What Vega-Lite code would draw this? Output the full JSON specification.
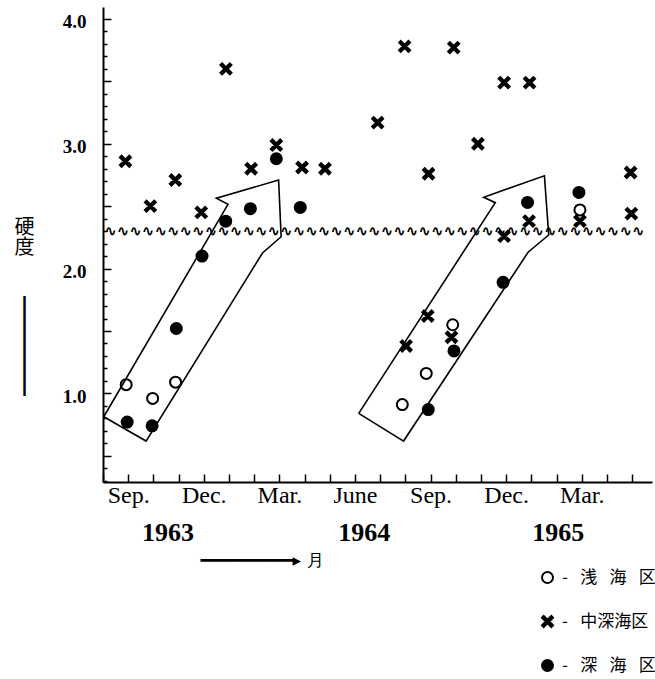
{
  "$schema": "https://vega.github.io/schema/vega-lite/v6.json",
  "width": 549,
  "height": 475,
  "autosize": {"type": "none"},
  "padding": {"left": 103, "top": 7, "right": 3, "bottom": 197},
  "background": "white",
  "config": {
    "view": {"stroke": null},
    "axis": {"grid": false, "domainColor": "black", "tickColor": "black", "labelColor": "black", "titleColor": "black"}
  },
  "datasets": {
    "points": [
      {"month": 8.89, "hardness": 2.86, "area": "中深海区"},
      {"month": 9.88, "hardness": 2.50, "area": "中深海区"},
      {"month": 10.87, "hardness": 2.71, "area": "中深海区"},
      {"month": 11.90, "hardness": 2.45, "area": "中深海区"},
      {"month": 12.88, "hardness": 3.60, "area": "中深海区"},
      {"month": 13.88, "hardness": 2.80, "area": "中深海区"},
      {"month": 14.88, "hardness": 2.99, "area": "中深海区"},
      {"month": 15.90, "hardness": 2.81, "area": "中深海区"},
      {"month": 16.81, "hardness": 2.80, "area": "中深海区"},
      {"month": 18.90, "hardness": 3.17, "area": "中深海区"},
      {"month": 19.97, "hardness": 3.78, "area": "中深海区"},
      {"month": 20.92, "hardness": 2.76, "area": "中深海区"},
      {"month": 21.92, "hardness": 3.77, "area": "中深海区"},
      {"month": 22.88, "hardness": 3.00, "area": "中深海区"},
      {"month": 23.92, "hardness": 3.49, "area": "中深海区"},
      {"month": 24.93, "hardness": 3.49, "area": "中深海区"},
      {"month": 24.91, "hardness": 2.38, "area": "中深海区"},
      {"month": 23.92, "hardness": 2.26, "area": "中深海区"},
      {"month": 26.93, "hardness": 2.38, "area": "中深海区"},
      {"month": 28.94, "hardness": 2.77, "area": "中深海区"},
      {"month": 28.97, "hardness": 2.44, "area": "中深海区"},
      {"month": 20.89, "hardness": 1.62, "area": "中深海区"},
      {"month": 21.83, "hardness": 1.45, "area": "中深海区"},
      {"month": 20.03, "hardness": 1.38, "area": "中深海区"},
      {"month": 8.92, "hardness": 1.07, "area": "浅海区"},
      {"month": 9.97, "hardness": 0.96, "area": "浅海区"},
      {"month": 10.88, "hardness": 1.09, "area": "浅海区"},
      {"month": 21.88, "hardness": 1.55, "area": "浅海区"},
      {"month": 20.83, "hardness": 1.16, "area": "浅海区"},
      {"month": 19.88, "hardness": 0.91, "area": "浅海区"},
      {"month": 26.93, "hardness": 2.47, "area": "浅海区"},
      {"month": 8.96, "hardness": 0.77, "area": "深海区"},
      {"month": 9.95, "hardness": 0.74, "area": "深海区"},
      {"month": 10.91, "hardness": 1.52, "area": "深海区"},
      {"month": 11.93, "hardness": 2.10, "area": "深海区"},
      {"month": 12.87, "hardness": 2.38, "area": "深海区"},
      {"month": 13.85, "hardness": 2.48, "area": "深海区"},
      {"month": 14.88, "hardness": 2.88, "area": "深海区"},
      {"month": 15.83, "hardness": 2.49, "area": "深海区"},
      {"month": 24.85, "hardness": 2.53, "area": "深海区"},
      {"month": 26.89, "hardness": 2.61, "area": "深海区"},
      {"month": 23.88, "hardness": 1.89, "area": "深海区"},
      {"month": 21.93, "hardness": 1.34, "area": "深海区"},
      {"month": 20.91, "hardness": 0.87, "area": "深海区"}
    ],
    "arrows": [
      {"arrow": 1, "i": 0, "month": 8.03, "hardness": 0.813},
      {"arrow": 1, "i": 1, "month": 12.96, "hardness": 2.515},
      {"arrow": 1, "i": 2, "month": 12.50, "hardness": 2.563},
      {"arrow": 1, "i": 3, "month": 14.97, "hardness": 2.710},
      {"arrow": 1, "i": 4, "month": 15.07, "hardness": 2.255},
      {"arrow": 1, "i": 5, "month": 14.33, "hardness": 2.125},
      {"arrow": 1, "i": 6, "month": 9.71, "hardness": 0.618},
      {"arrow": 1, "i": 7, "month": 8.03, "hardness": 0.813},
      {"arrow": 2, "i": 0, "month": 18.15, "hardness": 0.840},
      {"arrow": 2, "i": 1, "month": 23.57, "hardness": 2.528},
      {"arrow": 2, "i": 2, "month": 23.11, "hardness": 2.571},
      {"arrow": 2, "i": 3, "month": 25.52, "hardness": 2.744},
      {"arrow": 2, "i": 4, "month": 25.69, "hardness": 2.269},
      {"arrow": 2, "i": 5, "month": 24.88, "hardness": 2.133},
      {"arrow": 2, "i": 6, "month": 19.93, "hardness": 0.618},
      {"arrow": 2, "i": 7, "month": 18.15, "hardness": 0.840}
    ],
    "wave": [
      {"month": 18.77, "hardness": 2.30}
    ]
  },
  "layer": [
    {
      "data": {"name": "points"},
      "mark": {"type": "point", "filled": true, "size": 121, "strokeWidth": 2, "opacity": 1},
      "encoding": {
        "x": {
          "field": "month", "type": "quantitative",
          "scale": {"domain": [8, 29.79], "nice": false, "zero": false},
          "axis": {
            "orient": "bottom",
            "values": [8,9,10,11,12,13,14,15,16,17,18,19,20,21,22,23,24,25,26,27,28,29],
            "labelExpr": "datum.value == 9 || datum.value == 21 ? 'Sep.' : datum.value == 12 || datum.value == 24 ? 'Dec.' : datum.value == 15 || datum.value == 27 ? 'Mar.' : datum.value == 18 ? 'June' : ''",
            "tickSize": -8, "tickWidth": 1.5, "domainWidth": 2,
            "labelFont": "Liberation Serif", "labelFontSize": 24,
            "labelPadding": 9, "labelBaseline": "top",
            "labelOverlap": false, "labelFlush": false,
            "title": null
          }
        },
        "y": {
          "field": "hardness", "type": "quantitative",
          "scale": {"domain": [0.29, 4.096], "nice": false, "zero": false},
          "axis": {
            "orient": "left",
            "values": [0.5, 1.0, 1.5, 2.0, 2.5, 3.0, 3.5, 4.0],
            "tickSize": -8, "tickWidth": 1.5, "domainWidth": 2,
            "labelExpr": "datum.value == 1 ? '1.0' : datum.value == 2 ? '2.0' : datum.value == 3 ? '3.0' : datum.value == 4 ? '4.0' : ''",
            "labelFont": "Liberation Serif", "labelFontWeight": "bold", "labelFontSize": 19,
            "labelPadding": 25, "labelOffset": 3, "labelOverlap": false, "labelFlush": false,
            "title": ["硬", "度", "\u2800", "\u2800", "┃", "┃", "┃", "┃", "┃"],
            "titleAngle": 0, "titleX": -79, "titleY": 210,
            "titleAlign": "center", "titleBaseline": "top",
            "titleFont": "Noto Sans CJK JP", "titleFontSize": 20, "titleFontWeight": "normal",
            "titleLineHeight": 20
          }
        },
        "shape": {
          "field": "area", "type": "nominal",
          "scale": {"domain": ["浅海区", "中深海区", "深海区"], "range": ["circle", "M-1,-0.7L-0.7,-1L1,0.7L0.7,1ZM0.7,-1L1,-0.7L-0.7,1L-1,0.7Z", "circle"]},
          "legend": {
            "title": null, "orient": "none", "legendX": 436, "legendY": 562, "direction": "vertical",
            "padding": 0, "rowPadding": 25, "labelFont": "Noto Sans CJK JP", "labelFontSize": 17,
            "labelColor": "black", "labelOffset": 6, "symbolSize": 121, "symbolStrokeWidth": 2,
            "labelExpr": "datum.label == '浅海区' ? '-\u2002 浅\u2002 海\u2002 区' : datum.label == '深海区' ? '-\u2002 深\u2002 海\u2002 区' : '-\u2002 中深海区'"
          }
        },
        "fill": {
          "field": "area", "type": "nominal",
          "scale": {"domain": ["浅海区", "中深海区", "深海区"], "range": ["white", "black", "black"]},
          "legend": {
            "title": null, "orient": "none", "legendX": 436, "legendY": 562, "direction": "vertical",
            "padding": 0, "rowPadding": 25, "labelFont": "Noto Sans CJK JP", "labelFontSize": 17,
            "labelColor": "black", "labelOffset": 6, "symbolSize": 121, "symbolStrokeWidth": 2,
            "labelExpr": "datum.label == '浅海区' ? '-\u2002 浅\u2002 海\u2002 区' : datum.label == '深海区' ? '-\u2002 深\u2002 海\u2002 区' : '-\u2002 中深海区'"
          }
        },
        "stroke": {
          "field": "area", "type": "nominal",
          "scale": {"domain": ["浅海区", "中深海区", "深海区"], "range": ["black", "black", "black"]},
          "legend": {
            "title": null, "orient": "none", "legendX": 436, "legendY": 562, "direction": "vertical",
            "padding": 0, "rowPadding": 25, "labelFont": "Noto Sans CJK JP", "labelFontSize": 17,
            "labelColor": "black", "labelOffset": 6, "symbolSize": 121, "symbolStrokeWidth": 2,
            "labelExpr": "datum.label == '浅海区' ? '-\u2002 浅\u2002 海\u2002 区' : datum.label == '深海区' ? '-\u2002 深\u2002 海\u2002 区' : '-\u2002 中深海区'"
          }
        }
      }
    },
    {
      "data": {"name": "arrows"},
      "mark": {"type": "line", "stroke": "black", "strokeWidth": 1.6, "strokeJoin": "miter"},
      "encoding": {
        "x": {
          "field": "month", "type": "quantitative",
          "axis": {
            "orient": "bottom",
            "values": [10.56, 18.35, 26.05],
            "labelExpr": "datum.value < 12 ? '1963' : datum.value < 20 ? '1964' : '1965'",
            "domain": false, "ticks": false,
            "labelPadding": 37, "labelBaseline": "top",
            "labelFont": "Liberation Serif", "labelFontWeight": "bold", "labelFontSize": 26,
            "labelOverlap": false, "labelFlush": false,
            "title": "━━━━━━━━━▸  月",
            "titleX": 97, "titleY": 78, "titleAlign": "left", "titleBaseline": "middle",
            "titleFont": "DejaVu Sans", "titleFontSize": 17, "titleFontWeight": "normal"
          }
        },
        "y": {
          "field": "hardness", "type": "quantitative",
          "axis": {
            "orient": "left",
            "values": [0.3,0.4,0.6,0.7,0.8,0.9,1.1,1.2,1.3,1.4,1.6,1.7,1.8,1.9,2.1,2.2,2.3,2.4,2.6,2.7,2.8,2.9,3.1,3.2,3.3,3.4,3.6,3.7,3.8,3.9],
            "tickSize": -4, "tickWidth": 1.5, "domain": false, "labels": false, "title": null
          }
        },
        "detail": {"field": "arrow", "type": "nominal"},
        "order": {"field": "i", "type": "quantitative"}
      }
    },
    {
      "data": {"name": "wave"},
      "mark": {"type": "text", "text": "∿∿∿∿∿∿∿∿∿∿∿∿∿∿∿∿∿∿∿∿∿∿∿∿∿∿∿∿∿∿∿∿∿∿∿∿∿∿∿∿∿∿∿", "font": "DejaVu Sans", "fontSize": 15, "fontWeight": "bold", "align": "center", "baseline": "middle", "color": "black"},
      "encoding": {
        "x": {"field": "month", "type": "quantitative", "axis": null},
        "y": {"field": "hardness", "type": "quantitative", "axis": null}
      }
    }
  ],
  "resolve": {"axis": {"x": "independent", "y": "independent"}}
}
